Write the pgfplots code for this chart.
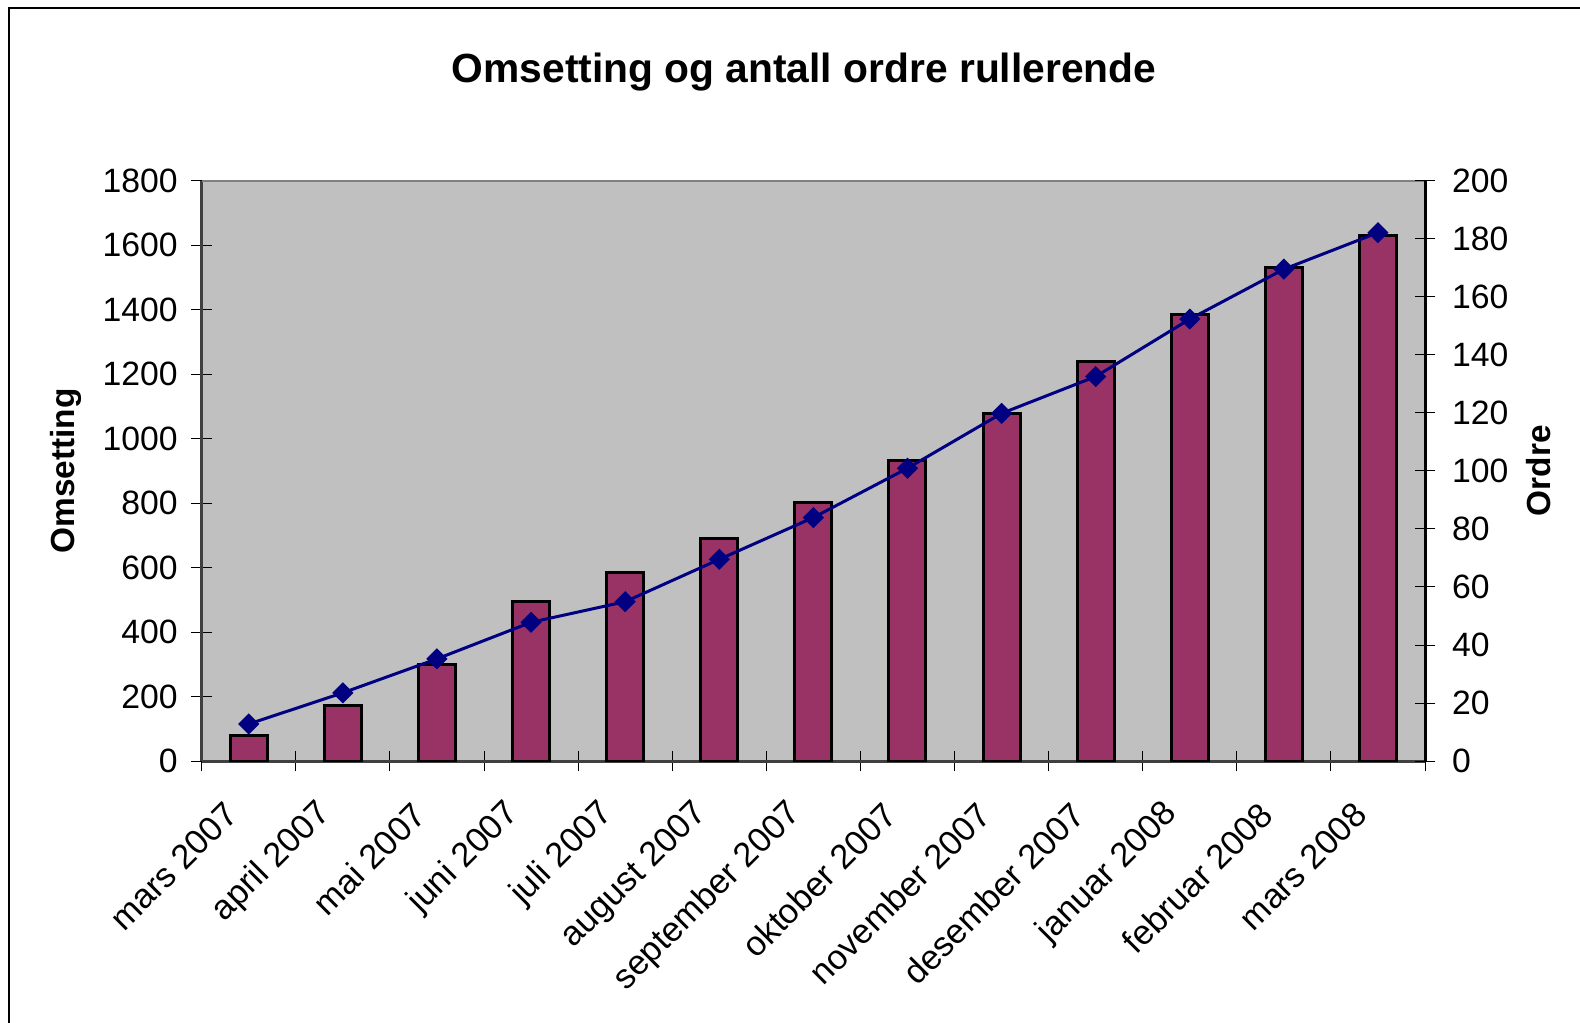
\documentclass[border=0pt]{standalone}
\usepackage{pgfplots}
\pgfplotsset{compat=1.18}
\usepackage{fontspec}
\setmainfont{Liberation Sans}
\definecolor{barcol}{HTML}{993366}
\definecolor{linecol}{HTML}{000080}
\definecolor{plotbg}{HTML}{C0C0C0}
\pgfplotsset{
  common/.style={
    at={(20.17mm,26.1mm)}, anchor=south west,
    scale only axis, width=122.33mm, height=58.03mm,
    xmin=-0.5, xmax=12.5,
    tick align=center, major tick length=2.06mm,
    tick style={black, line width=0.25pt},
    tick label style={font=\fontsize{9.6}{11}\selectfont},
    /pgf/number format/assume math mode=true,
    /pgf/number format/1000 sep={},
  }
}
\begin{document}
\begin{tikzpicture}[x=1mm,y=1mm]
\useasboundingbox (0,0) rectangle (158,102.2);
\draw[line width=0.2mm] (0.85,-1) -- (0.85,101.4) -- (160,101.4);
\node[font=\fontsize{11.6}{13}\selectfont\bfseries] at (80.4,95.0) {Omsetting og antall ordre rullerende};
\begin{axis}[common,
  ymin=0, ymax=1800, ytick={0,200,...,1800},
  axis background/.style={fill=plotbg},
  axis x line*=bottom, axis y line*=left,
  axis line style={draw=black!75, line width=0.3mm, -},
  x tick label as interval,
  xtick={-0.5,0.5,...,12.5},
  xticklabels={mars 2007,april 2007,mai 2007,juni 2007,juli 2007,august 2007,september 2007,oktober 2007,november 2007,desember 2007,januar 2008,februar 2008,mars 2008},
  xticklabel style={inner sep=0pt, font=\fontsize{9.8}{11}\selectfont, xshift=-1.7mm, yshift=-3.7mm, rotate=45, anchor=east},
  yticklabel style={inner sep=0pt, anchor=east, xshift=-1.3mm},
  every axis y label/.style={at={(axis description cs:0,0.5)}, xshift=-13.6mm, rotate=90, anchor=center},
  ylabel={\fontsize{9.5}{11}\selectfont\bfseries Omsetting},
]
\draw[draw=gray, line width=0.3mm] (rel axis cs:0,1) -- (rel axis cs:1,1);
\addplot[ybar, bar width=3.7mm, fill=barcol, draw=black, line width=0.3mm] coordinates {
(0,80) (1,171) (2,300) (3,494) (4,585) (5,689) (6,801) (7,931) (8,1078) (9,1240) (10,1386) (11,1532) (12,1629)
};
\end{axis}
\begin{axis}[common,
  ymin=0, ymax=200, ytick={0,20,...,200},
  axis x line=none, axis y line*=right,
  axis line style={draw=black, line width=0.3mm, -},
  yticklabel style={inner sep=0pt, anchor=west, xshift=1.6mm},
  every axis y label/.style={at={(axis description cs:1,0.5)}, xshift=11.4mm, rotate=90, anchor=center},
  ylabel={\fontsize{9.5}{11}\selectfont\bfseries Ordre},
]
\addplot[linecol, line width=0.3mm, mark=square*, mark size=0.6mm, mark options={rotate=45, fill=linecol, draw=linecol, solid}] coordinates {
(0,12.75) (1,23.5) (2,35.2) (3,47.8) (4,54.9) (5,69.5) (6,83.9) (7,100.9) (8,119.8) (9,132.5) (10,152.3) (11,169.5) (12,182.1)
};
\end{axis}
\end{tikzpicture}
\end{document}
